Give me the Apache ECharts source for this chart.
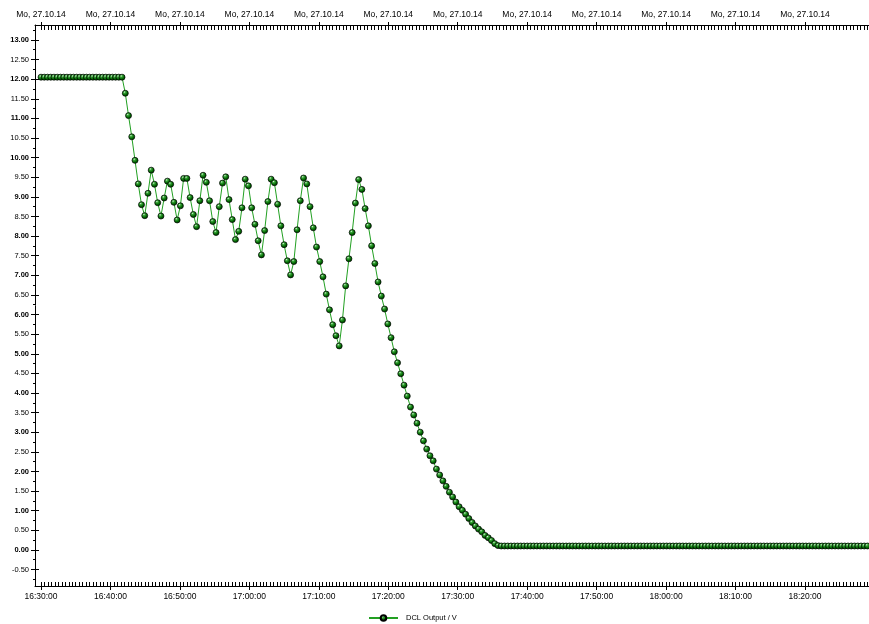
<!DOCTYPE html>
<html>
<head>
<meta charset="utf-8">
<script src="https://cdn.jsdelivr.net/npm/echarts@6/dist/echarts.min.js"></script>
<style>
html,body{margin:0;padding:0;background:#fff;}
#chart{width:869px;height:624px;}
</style>
</head>
<body>
<div id="chart"></div>
<script>
// ---- data ----
const seriesName = 'DCL Output / V';
const sampleStart = '16:30:00';
const sampleStepSeconds = 28;
const voltage = [
  12.05, 12.05, 12.05, 12.05, 12.05, 12.05, 12.05, 12.05, 12.05, 12.05, 12.05, 12.05, 12.05,
  12.05, 12.05, 12.05, 12.05, 12.05, 12.05, 12.05, 12.05, 12.05, 12.05, 12.05, 12.05, 12.05,
  11.64, 11.07, 10.53, 9.93, 9.33, 8.80, 8.52, 9.09, 9.68, 9.32,
  8.85, 8.51, 8.97, 9.40, 9.32, 8.86, 8.41, 8.77, 9.47, 9.47,
  8.98, 8.55, 8.24, 8.90, 9.55, 9.37, 8.90, 8.37, 8.09, 8.75,
  9.35, 9.51, 8.93, 8.42, 7.91, 8.12, 8.72, 9.45, 9.28, 8.72,
  8.30, 7.88, 7.52, 8.14, 8.88, 9.45, 9.36, 8.81, 8.26, 7.78,
  7.37, 7.01, 7.35, 8.16, 8.90, 9.48, 9.33, 8.75, 8.21, 7.72,
  7.35, 6.96, 6.52, 6.12, 5.74, 5.46, 5.20, 5.86, 6.73, 7.42,
  8.09, 8.84, 9.44, 9.19, 8.70, 8.26, 7.75, 7.30, 6.83, 6.47,
  6.14, 5.76, 5.41, 5.05, 4.77, 4.49, 4.20, 3.92, 3.64, 3.44,
  3.23, 3.00, 2.78, 2.57, 2.40, 2.27, 2.06, 1.91, 1.76, 1.62,
  1.47, 1.35, 1.22, 1.10, 1.01, 0.91, 0.80, 0.70, 0.61, 0.53,
  0.46, 0.37, 0.31, 0.24, 0.16, 0.11,
  0.10, 0.10, 0.10, 0.10, 0.10, 0.10, 0.10, 0.10, 0.10, 0.10, 0.10, 0.10, 0.10, 0.10, 0.10, 0.10, 0.10, 0.10, 0.10,
  0.10, 0.10, 0.10, 0.10, 0.10, 0.10, 0.10, 0.10, 0.10, 0.10, 0.10, 0.10, 0.10, 0.10, 0.10, 0.10, 0.10, 0.10, 0.10,
  0.10, 0.10, 0.10, 0.10, 0.10, 0.10, 0.10, 0.10, 0.10, 0.10, 0.10, 0.10, 0.10, 0.10, 0.10, 0.10, 0.10, 0.10, 0.10,
  0.10, 0.10, 0.10, 0.10, 0.10, 0.10, 0.10, 0.10, 0.10, 0.10, 0.10, 0.10, 0.10, 0.10, 0.10, 0.10, 0.10, 0.10, 0.10,
  0.10, 0.10, 0.10, 0.10, 0.10, 0.10, 0.10, 0.10, 0.10, 0.10, 0.10, 0.10, 0.10, 0.10, 0.10, 0.10, 0.10, 0.10, 0.10,
  0.10, 0.10, 0.10, 0.10, 0.10, 0.10, 0.10, 0.10, 0.10, 0.10, 0.10, 0.10, 0.10, 0.10, 0.10, 0.10, 0.10, 0.10, 0.10
];
const bottomTickLabels = ['16:30:00','16:40:00','16:50:00','17:00:00','17:10:00','17:20:00',
  '17:30:00','17:40:00','17:50:00','18:00:00','18:10:00','18:20:00'];
const topTickLabel = 'Mo, 27.10.14';
const yMajorTicks = [-0.5, 0, 0.5, 1, 1.5, 2, 2.5, 3, 3.5, 4, 4.5, 5, 5.5, 6, 6.5, 7, 7.5,
  8, 8.5, 9, 9.5, 10, 10.5, 11, 11.5, 12, 12.5, 13];
const yMinorTicks = [-0.75, -0.25, 0.25, 0.75, 1.25, 1.75, 2.25, 2.75, 3.25, 3.75, 4.25, 4.75,
  5.25, 5.75, 6.25, 6.75, 7.25, 7.75, 8.25, 8.75, 9.25, 9.75, 10.25, 10.75, 11.25, 11.75,
  12.25, 12.75, 13.25];

// ---- helpers ----
function toSec(s){ const p = s.split(':').map(Number); return p[0]*3600 + p[1]*60 + p[2]; }
const t0 = toSec(sampleStart);
const xMajor = bottomTickLabels.map(l => toSec(l) - t0);
const xMin = -52, xMax = 7153;
const xMinorAll = [];
for (let t = 0; t <= xMax; t += 30) xMinorAll.push(t);
const seriesData = voltage.map((v, i) => [i * sampleStepSeconds, v]);

const FONT = '"Liberation Sans", Arial, sans-serif';
const black = '#000';

const markerColor = {
  type: 'radial', x: 0.38, y: 0.32, r: 0.75,
  colorStops: [
    {offset: 0, color: '#d8f5d8'},
    {offset: 0.22, color: '#3aa63a'},
    {offset: 0.6, color: '#006400'},
    {offset: 1, color: '#003800'}
  ]
};

function xAxisBase(pos){
  return {
    type: 'value', position: pos, min: xMin, max: xMax,
    splitLine: {show: false},
    axisLine: {show: false, onZero: false, lineStyle: {color: black, width: 1}},
    axisLabel: {show: false},
    axisTick: {show: false}
  };
}
function yAxisBase(){
  return {
    type: 'value', position: 'left', min: -0.92, max: 13.38,
    splitLine: {show: false},
    axisLine: {show: false, onZero: false, lineStyle: {color: black, width: 1}},
    axisLabel: {show: false},
    axisTick: {show: false}
  };
}

const xAxes = [];
// bottom main axis: line, inward small ticks every 30 s, labels
let a = xAxisBase('bottom');
a.axisLine.show = true;
a.axisTick = {show: true, inside: true, length: 4, customValues: xMinorAll, lineStyle: {color: black, width: 1}};
a.axisLabel = {show: true, customValues: xMajor, margin: 6, color: black, fontSize: 8.5, fontFamily: FONT,
  formatter: v => bottomTickLabels[xMajor.indexOf(Math.round(v))] || ''};
xAxes.push(a);
// bottom major outward ticks
a = xAxisBase('bottom');
a.axisTick = {show: true, inside: false, length: 4, customValues: xMajor, lineStyle: {color: black, width: 1}};
xAxes.push(a);
// top main axis
a = xAxisBase('top');
a.axisLine.show = true;
a.axisTick = {show: true, inside: true, length: 5, customValues: xMinorAll, lineStyle: {color: black, width: 1}};
a.axisLabel = {show: true, customValues: xMajor, margin: 6, color: black, fontSize: 8.5, fontFamily: FONT,
  formatter: () => topTickLabel};
xAxes.push(a);
// top major outward ticks
a = xAxisBase('top');
a.axisTick = {show: true, inside: false, length: 3, customValues: xMajor, lineStyle: {color: black, width: 1}};
xAxes.push(a);

const yAxes = [];
let y = yAxisBase();
y.axisLine.show = true;
y.axisTick = {show: true, inside: false, length: 4, customValues: yMajorTicks, lineStyle: {color: black, width: 1}};
y.axisLabel = {show: true, customValues: yMajorTicks, margin: 6, color: black, fontSize: 7.5, fontFamily: FONT,
  formatter: v => {
    const s = v.toFixed(2);
    return Math.abs(v - Math.round(v)) < 1e-9 ? '{b|' + s + '}' : '{n|' + s + '}';
  },
  rich: {
    b: {fontWeight: 'bold', fontSize: 7.5, fontFamily: FONT, color: black},
    n: {fontSize: 7.5, fontFamily: FONT, color: black}
  }
};
yAxes.push(y);
y = yAxisBase();
y.axisTick = {show: true, inside: true, length: 4, customValues: yMajorTicks, lineStyle: {color: black, width: 1}};
yAxes.push(y);
y = yAxisBase();
y.axisTick = {show: true, inside: false, length: 2, customValues: yMinorTicks, lineStyle: {color: black, width: 1}};
yAxes.push(y);

const chart = echarts.init(document.getElementById('chart'), null, {renderer: 'canvas'});
chart.setOption({
  animation: false,
  backgroundColor: '#fff',
  textStyle: {fontFamily: FONT},
  grid: {left: 35, right: 0, top: 25, bottom: 38, containLabel: false},
  legend: {
    data: [seriesName], left: 363, top: 609,
    itemWidth: 29, itemHeight: 7, itemGap: 10,
    textStyle: {fontSize: 7.5, fontFamily: FONT, color: black, padding: [0, 0, 0, 3]}
  },
  xAxis: xAxes,
  yAxis: yAxes,
  series: [{
    name: seriesName,
    type: 'line',
    xAxisIndex: 0, yAxisIndex: 0,
    data: seriesData,
    symbol: 'circle',
    symbolSize: 6,
    showAllSymbol: true,
    lineStyle: {color: '#22a022', width: 1},
    itemStyle: {color: markerColor, borderColor: '#000', borderWidth: 0.7},
    emphasis: {disabled: true}
  }]
});
</script>
</body>
</html>
